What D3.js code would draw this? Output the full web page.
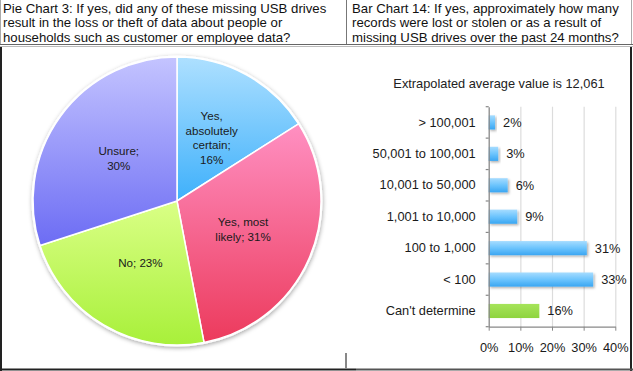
<!DOCTYPE html>
<html><head><meta charset="utf-8">
<script src="https://cdn.jsdelivr.net/npm/d3@7"></script>
<style>
html,body{margin:0;padding:0;background:#fff;}
svg{display:block;font-family:Arial,"Liberation Sans",Helvetica,sans-serif;}
</style></head>
<body>
<svg id="c" width="633" height="371"></svg>
<script>
// ---- data ----
const headerLeft = ["Pie Chart 3:  If yes, did any of these missing USB drives",
  "result in the loss or theft of data about people or",
  "households such as customer or employee data?"];
const headerRight = ["Bar Chart 14: If yes, approximately how many",
  "records were lost or stolen or as a result of",
  "missing USB drives over the past 24 months?"];

const pieCategories = ["Yes, absolutely certain", "Yes, most likely", "No", "Unsure"];
const pieValues = [16, 31, 23, 30];
const pieLabelLines = [["Yes,", "absolutely", "certain;", "16%"], ["Yes, most", "likely; 31%"], ["No; 23%"], ["Unsure;", "30%"]];

const barTitle = "Extrapolated average value is 12,061";
const barCategories = ["> 100,001", "50,001 to 100,001", "10,001 to 50,000", "1,001 to 10,000", "100 to 1,000", "< 100", "Can't determine"];
const barValues = [2, 3, 6, 9, 31, 33, 16];
const xTickValues = [0, 10, 20, 30, 40];

// ---- drawing ----
const svg = d3.select("#c");
const defs = svg.append("defs");

// header text
const hdr = svg.append("g").attr("font-size", 13.2).attr("fill", "#111");
headerLeft.forEach((t, i) => hdr.append("text").attr("x", 3).attr("y", 12.5 + i * 14.8).text(t));
headerRight.forEach((t, i) => hdr.append("text").attr("x", 352).attr("y", 12.5 + i * 14.8).text(t));

// frame lines
const fr = svg.append("g").attr("fill", "none");
fr.append("line").attr("x1", 0.5).attr("x2", 0.5).attr("y1", 0).attr("y2", 45).attr("stroke", "#aaa");
fr.append("line").attr("x1", 631.5).attr("x2", 631.5).attr("y1", 0).attr("y2", 45).attr("stroke", "#aaa");
fr.append("line").attr("x1", 346.5).attr("x2", 346.5).attr("y1", 0).attr("y2", 44).attr("stroke", "#777");
fr.append("line").attr("x1", 0).attr("x2", 633).attr("y1", 44.5).attr("y2", 44.5).attr("stroke", "#666");
fr.append("line").attr("x1", 0).attr("x2", 633).attr("y1", 46.5).attr("y2", 46.5).attr("stroke", "#bbb");
fr.append("line").attr("x1", 1).attr("x2", 1).attr("y1", 47).attr("y2", 371).attr("stroke", "#222").attr("stroke-width", 2);
fr.append("line").attr("x1", 631).attr("x2", 631).attr("y1", 47).attr("y2", 371).attr("stroke", "#222").attr("stroke-width", 2);
fr.append("line").attr("x1", 0).attr("x2", 356).attr("y1", 369.5).attr("y2", 369.5).attr("stroke", "#222").attr("stroke-width", 2);
fr.append("line").attr("x1", 356).attr("x2", 633).attr("y1", 369.5).attr("y2", 369.5).attr("stroke", "#555").attr("stroke-width", 2);
fr.append("line").attr("x1", 346).attr("x2", 346).attr("y1", 353).attr("y2", 369).attr("stroke", "#888").attr("stroke-width", 2);

// ---- pie ----
const cx = 177, cy = 201, R = 144;
const pieGrads = [["#aee0ff", "#3eb0fb"], ["#ff90c2", "#ec3a5c"], ["#daff86", "#a8f03a"], ["#c4c4ff", "#6c6cf4"]];
pieGrads.forEach((c, i) => {
  const g = defs.append("linearGradient").attr("id", "pg" + i).attr("x1", 0).attr("y1", 0).attr("x2", 0).attr("y2", 1);
  g.append("stop").attr("offset", 0).attr("stop-color", c[0]);
  g.append("stop").attr("offset", 1).attr("stop-color", c[1]);
});
const sh = defs.append("filter").attr("id", "shadow").attr("x", "-10%").attr("y", "-10%").attr("width", "120%").attr("height", "120%");
sh.append("feDropShadow").attr("dx", 0.5).attr("dy", 1.5).attr("stdDeviation", 2).attr("flood-color", "#000").attr("flood-opacity", 0.35);

const pie = d3.pie().sort(null).value(d => d)(pieValues);
const arc = d3.arc().innerRadius(0).outerRadius(R);
const pg = svg.append("g").attr("transform", `translate(${cx},${cy})`);
pg.append("circle").attr("r", R + 1.5).attr("fill", "#fff").attr("filter", "url(#shadow)");
pg.selectAll("path.slice").data(pie).join("path").attr("class", "slice")
  .attr("d", arc).attr("fill", (d, i) => `url(#pg${i})`)
  .attr("stroke", "#fff").attr("stroke-width", 1.5).attr("stroke-linejoin", "round");
const lh = 14.5;
pg.selectAll("text.pl").data(pie).join("text").attr("class", "pl")
  .attr("font-size", 11.6).attr("fill", "#1a1a1a").attr("text-anchor", "middle")
  .each(function (d, i) {
    const [x, y] = arc.centroid(d);
    const lines = pieLabelLines[i];
    const t = d3.select(this);
    lines.forEach((s, j) => {
      t.append("tspan").attr("x", x).attr("y", y + (j - (lines.length - 1) / 2) * lh + 4).text(s);
    });
  });

// ---- bar chart ----
const bx0 = 488.7, bx1 = 615.3, by0 = 106.7, by1 = 326.7;
const x = d3.scaleLinear().domain([0, 40]).range([bx0, bx1]);
const y = d3.scaleBand().domain(barCategories).range([by0, by1]).paddingInner(0.55).paddingOuter(0.275);

svg.append("text").attr("x", 499).attr("y", 87.5).attr("text-anchor", "middle")
  .attr("font-size", 12.8).attr("fill", "#222").text(barTitle);

const bg = defs.append("linearGradient").attr("id", "bb").attr("x1", 0).attr("y1", 0).attr("x2", 0).attr("y2", 1);
bg.append("stop").attr("offset", 0).attr("stop-color", "#a6dcff");
bg.append("stop").attr("offset", 0.5).attr("stop-color", "#6cc4fd");
bg.append("stop").attr("offset", 1).attr("stop-color", "#3aa6f2");
const gg = defs.append("linearGradient").attr("id", "bgn").attr("x1", 0).attr("y1", 0).attr("x2", 0).attr("y2", 1);
gg.append("stop").attr("offset", 0).attr("stop-color", "#a6e45a");
gg.append("stop").attr("offset", 1).attr("stop-color", "#8ed43e");
const bs = defs.append("filter").attr("id", "bshadow").attr("x", "-10%").attr("y", "-30%").attr("width", "130%").attr("height", "180%");
bs.append("feDropShadow").attr("dx", 1.5).attr("dy", 1.5).attr("stdDeviation", 1).attr("flood-color", "#000").attr("flood-opacity", 0.3);

// gridlines
svg.append("g").selectAll("line").data(xTickValues.filter(v => v > 0)).join("line")
  .attr("x1", d => x(d) + 0.5).attr("x2", d => x(d) + 0.5).attr("y1", by0).attr("y2", by1)
  .attr("stroke", "#dcdcdc").attr("stroke-width", 1.2);

// bars
svg.append("g").selectAll("rect").data(barValues).join("rect")
  .attr("x", bx0).attr("y", (d, i) => y(barCategories[i]))
  .attr("width", d => x(d) - bx0).attr("height", y.bandwidth())
  .attr("fill", (d, i) => barCategories[i] === "Can't determine" ? "url(#bgn)" : "url(#bb)")
  .attr("filter", (d, i) => barCategories[i] === "Can't determine" ? null : "url(#bshadow)");

// value labels
svg.append("g").selectAll("text").data(barValues).join("text")
  .attr("x", d => x(d) + 8).attr("y", (d, i) => y(barCategories[i]) + y.bandwidth() / 2 + 4.5)
  .attr("font-size", 12.8).attr("fill", "#1a1a1a").text(d => d + "%");

// y axis
const yAxis = svg.append("g").attr("transform", `translate(${bx0},0)`)
  .call(d3.axisLeft(y).tickSize(0).tickPadding(13));
yAxis.attr("font-family", null);
yAxis.select(".domain").attr("stroke", "#888").attr("stroke-width", 1.3);
yAxis.selectAll("text").attr("font-size", 12.8).attr("fill", "#1a1a1a");
// y boundary ticks
const bounds = barCategories.map(c => y(c) - y.step() * y.paddingInner() / 2).concat([by1]);
bounds[0] = by0;
svg.append("g").selectAll("line").data(bounds).join("line")
  .attr("x1", bx0 - 3).attr("x2", bx0).attr("y1", d => d).attr("y2", d => d)
  .attr("stroke", "#888").attr("stroke-width", 1.2);

// x axis
const xAxis = svg.append("g").attr("transform", `translate(0,${by1})`)
  .call(d3.axisBottom(x).tickValues(xTickValues).tickFormat(d => d + "%").tickSize(4).tickSizeOuter(0).tickPadding(12));
xAxis.attr("font-family", null);
xAxis.select(".domain").attr("stroke", "#888").attr("stroke-width", 1.3);
xAxis.selectAll(".tick line").attr("stroke", "#888");
xAxis.selectAll("text").attr("font-size", 12.8).attr("fill", "#1a1a1a");
</script>
</body></html>
